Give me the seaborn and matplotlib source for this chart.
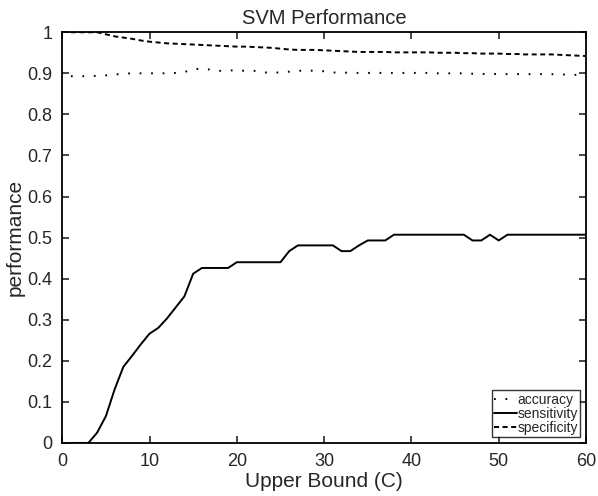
import numpy as np
import pandas as pd
import matplotlib
matplotlib.use("Agg")
import matplotlib.pyplot as plt
import seaborn as sns

# upper bound C values
upper_c = list(range(1, 61))

accuracy = [
    0.893, 0.893, 0.893, 0.894, 0.895, 0.897, 0.899, 0.900, 0.900, 0.900,
    0.900, 0.900, 0.901, 0.903, 0.910, 0.911, 0.909, 0.906, 0.907, 0.907,
    0.906, 0.906, 0.902, 0.902, 0.902, 0.904, 0.906, 0.907, 0.906, 0.905,
    0.902, 0.902, 0.901, 0.901, 0.901, 0.901, 0.901, 0.901, 0.901, 0.901,
    0.901, 0.901, 0.900, 0.900, 0.900, 0.900, 0.899, 0.898, 0.899, 0.898,
    0.898, 0.898, 0.898, 0.898, 0.898, 0.898, 0.897, 0.897, 0.896, 0.895,
]

sensitivity = [
    0.000, 0.000, 0.000, 0.025, 0.065, 0.130, 0.185, 0.212, 0.240, 0.266,
    0.280, 0.303, 0.330, 0.357, 0.412, 0.426, 0.426, 0.426, 0.426, 0.440,
    0.440, 0.440, 0.440, 0.440, 0.440, 0.467, 0.481, 0.481, 0.481, 0.481,
    0.481, 0.467, 0.467, 0.481, 0.493, 0.493, 0.493, 0.507, 0.507, 0.507,
    0.507, 0.507, 0.507, 0.507, 0.507, 0.507, 0.493, 0.493, 0.507, 0.493,
    0.507, 0.507, 0.507, 0.507, 0.507, 0.507, 0.507, 0.507, 0.507, 0.507,
]

specificity = [
    1.000, 1.000, 1.000, 1.000, 0.995, 0.990, 0.987, 0.984, 0.980, 0.977,
    0.975, 0.973, 0.972, 0.971, 0.970, 0.969, 0.968, 0.967, 0.966, 0.965,
    0.965, 0.964, 0.963, 0.962, 0.960, 0.958, 0.957, 0.957, 0.957, 0.956,
    0.955, 0.954, 0.953, 0.952, 0.952, 0.952, 0.952, 0.951, 0.951, 0.951,
    0.951, 0.951, 0.950, 0.950, 0.950, 0.949, 0.949, 0.948, 0.948, 0.948,
    0.947, 0.947, 0.946, 0.946, 0.946, 0.946, 0.945, 0.944, 0.943, 0.942,
]

df = pd.DataFrame({"C": upper_c, "accuracy": accuracy,
                   "sensitivity": sensitivity, "specificity": specificity})

sns.set_style("ticks")
plt.rcParams["font.family"] = ["Liberation Sans", "DejaVu Sans"]
plt.rcParams["xtick.direction"] = "in"
plt.rcParams["ytick.direction"] = "in"

fig = plt.figure(figsize=(5.98, 4.96), dpi=100)
ax = fig.add_axes([0.104, 0.107, 0.876, 0.828])

styles = {
    "accuracy": (0, (0.9, 5.0)),
    "sensitivity": "-",
    "specificity": (0, (2.6, 1.8)),
}
for name, ls in styles.items():
    sns.lineplot(data=df, x="C", y=name, ax=ax, color="black", linestyle=ls,
                 linewidth=1.4, label=name)

ax.set_xlim(0, 60)
ax.set_ylim(0, 1)
ax.set_xticks(np.arange(0, 61, 10))
ax.set_yticks(np.arange(0, 1.01, 0.1))
ax.set_yticklabels(["0", "0.1", "0.2", "0.3", "0.4", "0.5", "0.6",
                    "0.7", "0.8", "0.9", "1"])
ax.tick_params(axis="both", labelsize=13, length=5, width=1.2,
               top=True, right=True, pad=7)
for sp in ax.spines.values():
    sp.set_linewidth(1.3)
    sp.set_color("black")

ax.set_xlabel("Upper Bound (C)", fontsize=15, labelpad=2)
ax.set_ylabel("performance", fontsize=15, labelpad=2)
ax.set_title("SVM Performance", fontsize=14.5, pad=6)

leg = ax.legend(loc="lower right", fontsize=10, frameon=True, fancybox=False,
                handlelength=1.6, handletextpad=0.05, labelspacing=0.0,
                borderpad=0.2, borderaxespad=0.4)
leg.get_frame().set_edgecolor("black")
leg.get_frame().set_linewidth(1.0)

fig.savefig("out.png", dpi=100)
